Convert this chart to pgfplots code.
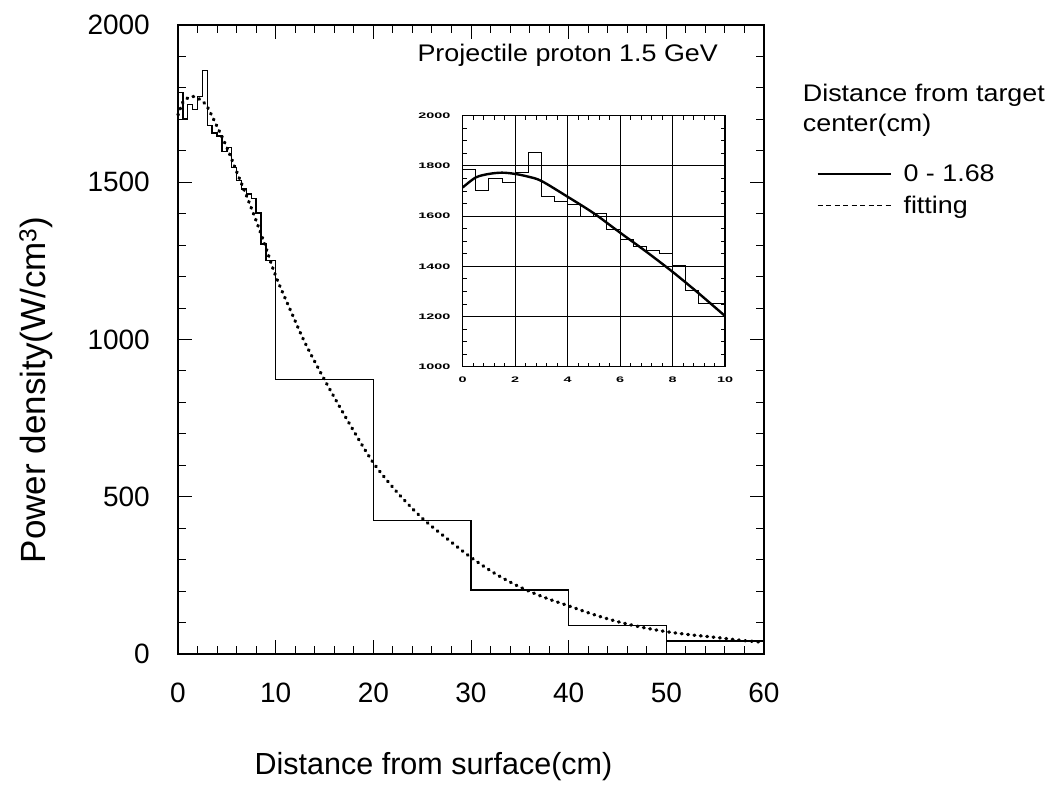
\documentclass[border=0pt]{standalone}
\usepackage{fontspec}
\setmainfont{Liberation Sans}
\newfontfamily\widefont[FakeStretch=1.12]{Liberation Sans}
\newfontfamily\insetfont[FakeStretch=1.8]{Liberation Sans}
\usepackage{pgfplots}
\pgfplotsset{compat=1.18}
\begin{document}
\begin{tikzpicture}
\path[use as bounding box] (0,0) rectangle (1059pt,802pt);
\begin{axis}[
  at={(178pt,148pt)}, anchor=south west,
  width=586pt, height=629pt, scale only axis,
  xmin=0, xmax=60, ymin=0, ymax=2000,
  xtick={0,10,...,60}, ytick={0,500,...,2000},
  minor x tick num=4, minor y tick num=4,
  tick align=inside,
  major tick length=14pt, minor tick length=8pt,
  every tick/.style={black, line width=1pt},
  axis line style={line width=1.6pt},
  tick label style={font=\fontsize{28}{28}\selectfont, inner sep=0pt},
  /pgf/number format/assume math mode=true,
  /pgf/number format/1000 sep={},
  yticklabel style={xshift=-28pt},
  xticklabel style={yshift=-29pt},
  xlabel={Distance from surface(cm)},
  ylabel={Power density(W/cm\textsuperscript{3})},
  label style={inner sep=0pt},
  xlabel style={font=\fontsize{30.5}{30.5}\selectfont, at={(axis description cs:0.436,-0.1797)}, anchor=center},
  ylabel style={font=\fontsize{35}{35}\selectfont, at={(axis description cs:-0.2423,0.42)}, anchor=center},
  clip=false,
  legend style={at={(1.09,0.781)}, anchor=north west, draw=none, fill=none,
    font=\widefont\fontsize{24}{24}\selectfont, inner sep=0pt,
    row sep=9pt, cells={anchor=west}},
  legend image code/.code={\draw[#1] (0pt,0pt) -- (73pt,0pt); \path (83pt,0pt);},
]
\addlegendimage{black, line width=1.2pt}
\addlegendentry{0 - 1.68}
\addlegendimage{black, line width=1.6pt, dash pattern=on 5pt off 3.5pt}
\addlegendentry{fitting}
\addplot[black, line width=1.4pt, const plot mark left, forget plot] coordinates {
(0,1786) (0.5,1701) (1,1748) (1.5,1732) (2,1773) (2.5,1855) (3,1680) (3.5,1657)
(4,1647) (4.5,1598) (5,1611) (5.5,1547) (6,1505) (6.5,1478) (7,1462) (7.5,1449)
(8,1402) (8.5,1303) (9,1252) (9.5,1252) (10,873) (20,425) (30,204) (40,90) (50,41) (60,41)
};
\addplot[black, line width=3.3pt, dash pattern=on 0.8pt off 5.6pt, line cap=round, smooth, forget plot] coordinates {
(0,1714) (0.5,1754) (1,1768) (1.5,1773) (2,1768) (2.5,1757) (3,1740) (4,1677)
(5,1611) (6,1534) (7,1458) (8,1378) (9,1292) (10,1202) (11.5,1094) (13,990)
(15,872) (17.5,735) (20,608) (22.5,512) (25,432) (27.5,368) (30,307) (32.5,255)
(35,213) (37.5,180) (40,153) (42.5,126) (45,103) (47.5,85) (50,71) (52.5,61)
(55,53) (57.5,44) (60,37)
};
\node[font=\widefont\fontsize{24}{24}\selectfont, inner sep=0pt] at (axis cs:39.9,1905) {Projectile proton 1.5 GeV};
\node[font=\widefont\fontsize{24}{30}\selectfont, inner sep=0pt, anchor=north west, align=left]
  at (rel axis cs:1.066,0.906) {Distance from target\\center(cm)};
\end{axis}
\begin{axis}[
  at={(462.7pt,435.3pt)}, anchor=south west,
  width=262.3pt, height=251pt, scale only axis,
  xmin=0, xmax=10, ymin=1000, ymax=2000,
  xtick={0,2,...,10}, ytick={1000,1200,...,2000},
  minor x tick num=4, minor y tick num=3,
  grid=major, major grid style={black, line width=0.9pt},
  tick align=inside,
  major tick length=5pt, minor tick length=4pt,
  every tick/.style={black, line width=0.8pt},
  axis line style={line width=1.2pt},
  axis background/.style={fill=white},
  tick label style={font=\insetfont\bfseries\fontsize{8}{8}\selectfont, inner sep=0pt},
  /pgf/number format/assume math mode=true,
  /pgf/number format/1000 sep={},
  yticklabel style={xshift=-12pt},
  xticklabel style={yshift=-10pt},
]
\addplot[black, line width=1pt, const plot mark left] coordinates {
(0,1786) (0.5,1701) (1,1748) (1.5,1732) (2,1773) (2.5,1855) (3,1680) (3.5,1657)
(4,1647) (4.5,1598) (5,1611) (5.5,1547) (6,1505) (6.5,1478) (7,1462) (7.5,1449)
(8,1402) (8.5,1303) (9,1252) (9.5,1252) (10,1252)
};
\addplot[black, line width=2.4pt, smooth] coordinates {
(0,1714) (0.5,1754) (1,1768) (1.5,1773) (2,1768) (2.5,1757) (3,1740) (4,1677)
(5,1611) (6,1534) (7,1458) (8,1378) (9,1292) (10,1202)
};
\end{axis}
\end{tikzpicture}
\end{document}
